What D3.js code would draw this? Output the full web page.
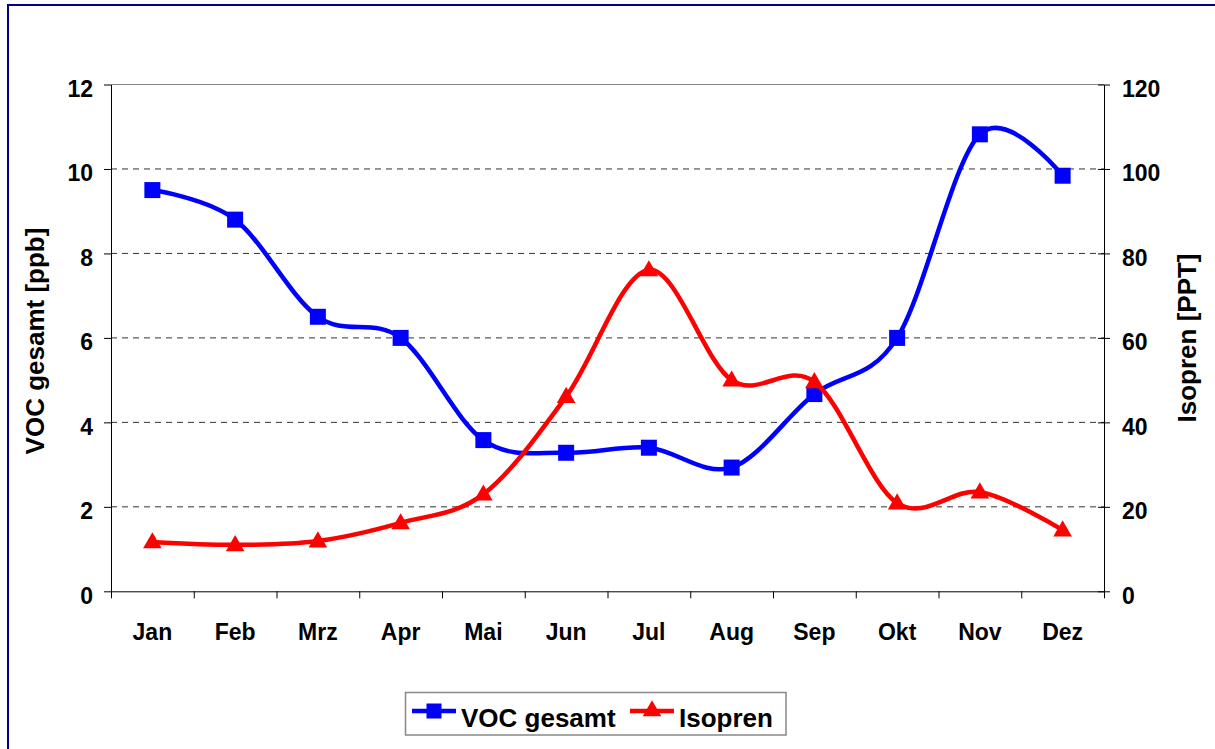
<!DOCTYPE html>
<html>
<head>
<meta charset="utf-8">
<script src="https://cdn.jsdelivr.net/npm/d3@7"></script>
<style>
  html, body { margin: 0; padding: 0; background: #fff; }
  svg { display: block; font-family: "Liberation Sans", Arial, sans-serif; font-weight: bold; }
</style>
</head>
<body>
<svg id="chart" width="1215" height="749"></svg>
<script>
const months = ["Jan","Feb","Mrz","Apr","Mai","Jun","Jul","Aug","Sep","Okt","Nov","Dez"];
const vocValues = [9.5, 8.8, 6.5, 6.0, 3.58, 3.28, 3.4, 2.93, 4.67, 6.0, 10.82, 9.84];
const isoprenValues = [11.7, 11.0, 11.9, 16.2, 23.0, 46.1, 76.1, 50.0, 49.6, 20.9, 23.5, 14.5];
const leftTicks = [0, 2, 4, 6, 8, 10, 12];
const rightTicks = [0, 20, 40, 60, 80, 100, 120];
const seriesNames = ["VOC gesamt", "Isopren"];
const seriesColors = ["#0000FF", "#FF0000"];

const svg = d3.select("#chart");
const X0 = 111, X1 = 1104, YT = 84.5, YB = 591.3;
const FS = 23;

// outer border
svg.append("rect").attr("x", 8).attr("y", 5).attr("width", 1260).attr("height", 800)
  .attr("fill", "none").attr("stroke", "#000080").attr("stroke-width", 2);

const x = d3.scaleBand().domain(months).range([X0, X1]).padding(0);
const xEdges = d3.scaleLinear().domain([0, 12]).range([X0, X1]);
const yL = d3.scaleLinear().domain([0, 12]).range([YB, YT]);
const yR = d3.scaleLinear().domain([0, 120]).range([YB, YT]);
const cx = m => x(m) + x.bandwidth() / 2;

// gridlines
svg.append("g").selectAll("line").data(leftTicks.filter(t => t > 0 && t < 12)).join("line")
  .attr("x1", X0).attr("x2", X1).attr("y1", d => yL(d)).attr("y2", d => yL(d))
  .attr("stroke", "#333").attr("stroke-width", 1).attr("stroke-dasharray", "6,5");
svg.append("line").attr("x1", X0).attr("x2", X1).attr("y1", yL(12)).attr("y2", yL(12))
  .attr("stroke", "#888").attr("stroke-width", 1);

// left axis
const gL = svg.append("g").attr("transform", `translate(${X0},0)`)
  .call(d3.axisLeft(yL).tickValues(leftTicks).tickSizeInner(7).tickSizeOuter(0).tickPadding(11));
gL.select(".domain").attr("stroke", "#000");
gL.selectAll("text").attr("dy", "0.52em").attr("font-size", FS).attr("font-family", "Liberation Sans, Arial, sans-serif").attr("font-weight", "bold").attr("fill", "#000");

// right axis
const gR = svg.append("g").attr("transform", `translate(${X1},0)`)
  .call(d3.axisRight(yR).tickValues(rightTicks).tickSizeInner(6).tickSizeOuter(0).tickPadding(12));
gR.select(".domain").attr("stroke", "#000");
gR.selectAll(".tick line").attr("x1", -6);
gR.selectAll("text").attr("dy", "0.52em").attr("font-size", FS).attr("font-family", "Liberation Sans, Arial, sans-serif").attr("font-weight", "bold").attr("fill", "#000");

// bottom axis: edge ticks
const gBt = svg.append("g").attr("transform", `translate(0,${YB})`)
  .call(d3.axisBottom(xEdges).tickValues(d3.range(0, 13)).tickSizeInner(7).tickSizeOuter(0).tickFormat(""));
gBt.select(".domain").attr("stroke", "#000");
// bottom labels
const gB = svg.append("g").attr("transform", `translate(0,${YB})`)
  .call(d3.axisBottom(x).tickSize(0).tickPadding(0));
gB.select(".domain").remove();
gB.selectAll("text").attr("y", 48.3).attr("dy", 0).attr("font-size", FS).attr("font-family", "Liberation Sans, Arial, sans-serif").attr("font-weight", "bold").attr("fill", "#000");

// axis titles
svg.append("text").attr("transform", `translate(44,341) rotate(-90)`).attr("text-anchor", "middle")
  .attr("font-size", 26).text("VOC gesamt [ppb]");
svg.append("text").attr("transform", `translate(1196,338) rotate(-90)`).attr("text-anchor", "middle")
  .attr("font-size", 26).text("Isopren [PPT]");

const curve = d3.curveCardinal.tension(0);
const tri = d3.symbol().type(d3.symbolTriangle).size(150);

// VOC
svg.append("path").datum(vocValues)
  .attr("d", d3.line().x((d, i) => cx(months[i])).y(d => yL(d)).curve(curve))
  .attr("fill", "none").attr("stroke", seriesColors[0]).attr("stroke-width", 4.5);
svg.append("g").selectAll("rect").data(vocValues).join("rect")
  .attr("x", (d, i) => cx(months[i]) - 8).attr("y", d => yL(d) - 8)
  .attr("width", 16).attr("height", 16).attr("fill", seriesColors[0]);

// Isopren
svg.append("path").datum(isoprenValues)
  .attr("d", d3.line().x((d, i) => cx(months[i])).y(d => yR(d)).curve(curve))
  .attr("fill", "none").attr("stroke", seriesColors[1]).attr("stroke-width", 4.5);
svg.append("g").selectAll("path").data(isoprenValues).join("path")
  .attr("d", tri)
  .attr("transform", (d, i) => `translate(${cx(months[i])},${yR(d) + 1})`)
  .attr("fill", seriesColors[1]);

// legend
const lg = svg.append("g");
lg.append("rect").attr("x", 405.5).attr("y", 692.5).attr("width", 380.5).attr("height", 42.5)
  .attr("fill", "#fff").attr("stroke", "#888").attr("stroke-width", 1.5);
const legendItems = [
  { name: seriesNames[0], color: seriesColors[0], x1: 412, x2: 456, tx: 461, sym: "sq" },
  { name: seriesNames[1], color: seriesColors[1], x1: 630, x2: 674, tx: 679, sym: "tri" }
];
legendItems.forEach(it => {
  lg.append("line").attr("x1", it.x1).attr("x2", it.x2).attr("y1", 711).attr("y2", 711)
    .attr("stroke", it.color).attr("stroke-width", 4.5);
  const mx = (it.x1 + it.x2) / 2;
  if (it.sym === "sq") {
    lg.append("rect").attr("x", mx - 7.5).attr("y", 711 - 7.5).attr("width", 15).attr("height", 15).attr("fill", it.color);
  } else {
    lg.append("path").attr("d", tri).attr("transform", `translate(${mx},${711})`).attr("fill", it.color);
  }
  lg.append("text").attr("x", it.tx).attr("y", 726.5).attr("font-size", 26).text(it.name);
});
</script>
</body>
</html>
